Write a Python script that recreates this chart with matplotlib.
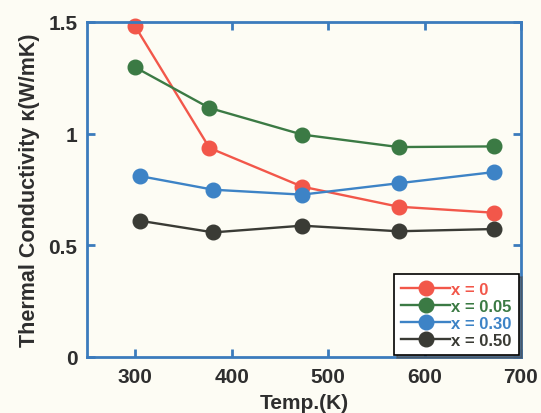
import matplotlib
matplotlib.use("Agg")
import matplotlib.pyplot as plt

# data
temp_red = [300, 377, 473, 573, 672]
k_red = [1.48, 0.936, 0.763, 0.673, 0.646]
temp_green = [300, 377, 473, 573, 672]
k_green = [1.297, 1.115, 0.996, 0.940, 0.943]
temp_blue = [305, 381, 473, 573, 672]
k_blue = [0.81, 0.749, 0.727, 0.778, 0.828]
temp_black = [305, 381, 473, 573, 672]
k_black = [0.610, 0.558, 0.588, 0.563, 0.573]
labels = ["x = 0", "x = 0.05", "x = 0.30", "x = 0.50"]

RED, GREEN, BLUE, DARK = "#f2574a", "#3b7a44", "#3d83c6", "#3a3b35"
SPINE = "#3b7bbd"
TXT = "#2e2e2e"

plt.rcParams.update({"font.family": ["Liberation Sans", "DejaVu Sans"], "font.weight": "bold"})

fig = plt.figure(figsize=(5.41, 4.14), dpi=100, facecolor="#fdfcf4")
ax = fig.add_axes([87 / 541, 1 - 358 / 414, (521 - 87) / 541, (358 - 23) / 414])
ax.set_facecolor("#fdfcf4")

series = [(temp_red, k_red, RED), (temp_green, k_green, GREEN),
          (temp_blue, k_blue, BLUE), (temp_black, k_black, DARK)]
for (t, k, c), lab in zip(series, labels):
    ax.plot(t, k, "-o", color=c, lw=1.7, ms=10.5, label=lab, clip_on=False)

ax.set_xlim(250, 700); ax.set_ylim(0, 1.5)
ax.set_xticks([300, 400, 500, 600, 700])
ax.set_yticks([0, 0.5, 1, 1.5]); ax.set_yticklabels(["0", "0.5", "1", "1.5"])
for s in ax.spines.values():
    s.set_color(SPINE); s.set_linewidth(2)
ax.tick_params(direction="in", length=6, width=2, color=SPINE, top=True, right=True,
               labelsize=15, labelcolor=TXT, pad=7)
ax.set_xlabel("Temp.(K)", fontweight="bold", fontsize=15, color=TXT, labelpad=5)
ax.set_ylabel("Thermal Conductivity κ(W/mK)", fontweight="bold", fontsize=15.5,
              color=TXT, labelpad=6)

leg = ax.legend(loc="lower right", bbox_to_anchor=(1.0, 0.0), frameon=True, shadow=True,
                fancybox=False, edgecolor="black", fontsize=12, handlelength=2.9,
                handletextpad=0.1, labelspacing=0.12, borderpad=0.45, borderaxespad=0.1)
leg.get_frame().set_linewidth(1.2)
for txt, (_, _, c) in zip(leg.get_texts(), series):
    txt.set_color(c)

fig.savefig("out.png", facecolor=fig.get_facecolor())
